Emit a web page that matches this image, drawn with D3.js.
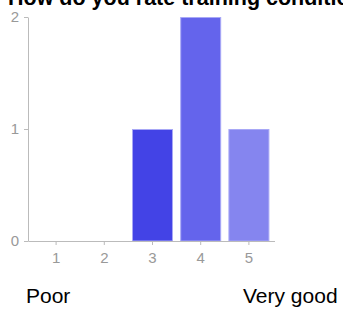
<!DOCTYPE html>
<html>
<head>
<meta charset="utf-8">
<script src="https://cdn.jsdelivr.net/npm/d3@7"></script>
<style>
body { margin: 0; background: #fff; overflow: hidden; }
svg { display: block; font-family: "Liberation Sans", Arial, sans-serif; }
</style>
</head>
<body>
<script>
var categories = ["1", "2", "3", "4", "5"]
var counts = [0, 0, 1, 2, 1]
var yTicks = [0, 1, 2]
var barColors = ["#4343e6", "#4343e6", "#4343e6", "#6464ec", "#8585ef"]
var title = "How do you rate training conditions?"
var lowLabel = "Poor"
var highLabel = "Very good"

var width = 343, height = 311

var svg = d3.select("body").append("svg")
    .attr("width", width)
    .attr("height", height)

svg.append("text")
    .attr("x", 8)
    .attr("y", 5)
    .attr("font-size", 21.5)
    .attr("font-weight", "bold")
    .attr("fill", "#000")
    .text(title)

var x = d3.scaleBand()
    .domain(categories)
    .range([32, 273])
    .paddingInner(0.15)
    .paddingOuter(0.075)

var y = d3.scaleLinear()
    .domain([0, 2])
    .range([241, 17])

svg.selectAll(".bar")
    .data(counts)
  .enter().append("rect")
    .attr("class", "bar")
    .attr("x", function(d, i) { return x(categories[i]) + 0.5; })
    .attr("y", function(d) { return y(d) + 0.5; })
    .attr("width", x.bandwidth() - 1)
    .attr("height", function(d) { return Math.max(0, y(0) - y(d) - 0.5); })
    .attr("fill", function(d, i) { return barColors[i]; })
    .attr("stroke", "#a8a8f6")
    .attr("stroke-width", 1)
    .style("display", function(d) { return d > 0 ? null : "none"; })

var xAxis = svg.append("g")
    .attr("transform", "translate(0,241)")
    .call(d3.axisBottom(x).tickSize(4).tickSizeOuter(0))
xAxis.select(".domain").attr("stroke", "#bbb")
    .attr("d", "M28.5,0.5H275")
xAxis.selectAll(".tick line").attr("stroke", "#bbb")
xAxis.selectAll(".tick text").attr("fill", "#999").attr("font-size", 15)
    .attr("font-family", "Liberation Sans, Arial, sans-serif").attr("dy", "0.95em").attr("y", 8)

var yAxis = svg.append("g")
    .attr("transform", "translate(28,0)")
    .call(d3.axisLeft(y).tickValues(yTicks).tickFormat(d3.format("d")).tickSize(4).tickSizeOuter(0))
yAxis.select(".domain").attr("stroke", "#bbb")
yAxis.selectAll(".tick line").attr("stroke", "#bbb")
yAxis.selectAll(".tick text").attr("fill", "#999").attr("font-size", 15)
    .attr("font-family", "Liberation Sans, Arial, sans-serif").attr("x", -9)

svg.append("text")
    .attr("x", 26)
    .attr("y", 303)
    .attr("font-size", 21)
    .attr("fill", "#000")
    .text(lowLabel)

svg.append("text")
    .attr("x", 243)
    .attr("y", 303)
    .attr("font-size", 21)
    .attr("fill", "#000")
    .text(highLabel)
</script>
</body>
</html>
